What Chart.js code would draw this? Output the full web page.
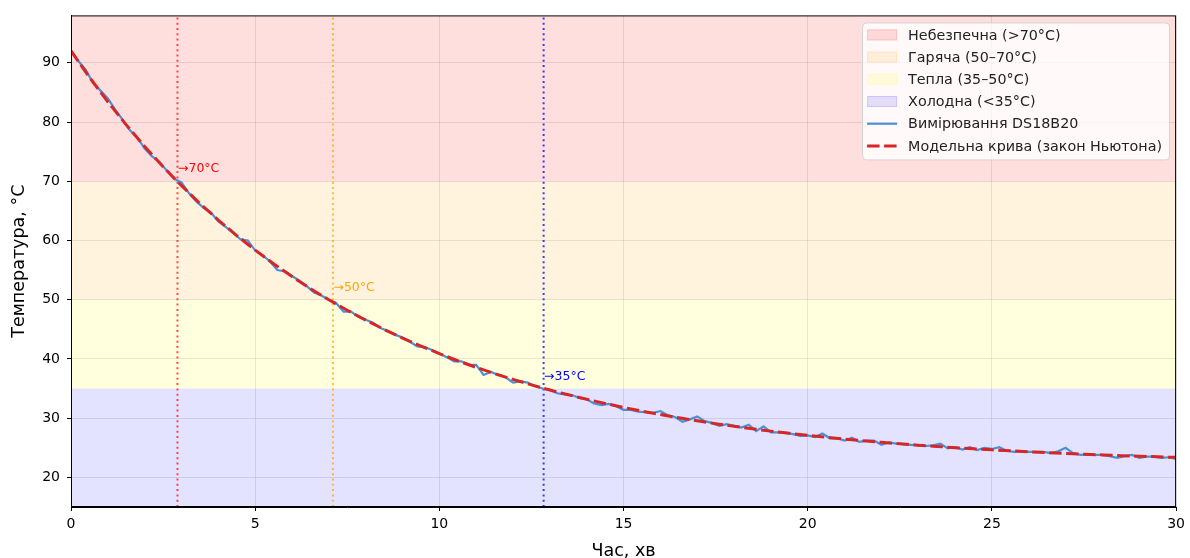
<!DOCTYPE html>
<html>
<head>
<meta charset="utf-8">
<script src="https://cdn.jsdelivr.net/npm/chart.js@4/dist/chart.umd.min.js"></script>
<style>
  html, body { margin: 0; padding: 0; background: #fff; }
  canvas { display: block; }
</style>
</head>
<body>
<canvas id="coolingChart" width="1190" height="558"></canvas>
<script>
// measured DS18B20 readings, every 0.2 min
const timeMin = [
  0, 0.2, 0.4, 0.6, 0.8, 1, 1.2, 1.4, 1.6, 1.8, 2, 2.2, 2.4, 2.6, 2.8,
  3, 3.2, 3.4, 3.6, 3.8, 4, 4.2, 4.4, 4.6, 4.8, 5, 5.2, 5.4, 5.6, 5.8,
  6, 6.2, 6.4, 6.6, 6.8, 7, 7.2, 7.4, 7.6, 7.8, 8, 8.2, 8.4, 8.6, 8.8,
  9, 9.2, 9.4, 9.6, 9.8, 10, 10.2, 10.4, 10.6, 10.8, 11, 11.2, 11.4, 11.6, 11.8,
  12, 12.2, 12.4, 12.6, 12.8, 13, 13.2, 13.4, 13.6, 13.8, 14, 14.2, 14.4, 14.6, 14.8,
  15, 15.2, 15.4, 15.6, 15.8, 16, 16.2, 16.4, 16.6, 16.8, 17, 17.2, 17.4, 17.6, 17.8,
  18, 18.2, 18.4, 18.6, 18.8, 19, 19.2, 19.4, 19.6, 19.8, 20, 20.2, 20.4, 20.6, 20.8,
  21, 21.2, 21.4, 21.6, 21.8, 22, 22.2, 22.4, 22.6, 22.8, 23, 23.2, 23.4, 23.6, 23.8,
  24, 24.2, 24.4, 24.6, 24.8, 25, 25.2, 25.4, 25.6, 25.8, 26, 26.2, 26.4, 26.6, 26.8,
  27, 27.2, 27.4, 27.6, 27.8, 28, 28.2, 28.4, 28.6, 28.8, 29, 29.2, 29.4, 29.6, 29.8, 30
];
const tempMeasured = [
  92.0, 90.3, 88.8, 86.6, 85.3, 84.0, 82.1, 80.4, 78.6, 77.4, 75.5, 74.2, 73.3, 71.8, 70.4,
  69.8, 68.0, 66.6, 65.5, 64.7, 63.2, 62.3, 61.3, 60.2, 60.0, 58.3, 57.5, 56.5, 55.0, 54.8,
  54.0, 53.2, 52.3, 51.2, 50.7, 50.0, 49.4, 48.0, 48.0, 47.1, 46.6, 46.1, 45.2, 44.7, 44.1,
  43.6, 42.9, 42.1, 42.0, 41.5, 40.9, 40.3, 39.6, 39.6, 39.0, 39.0, 37.3, 37.8, 37.3, 36.9,
  36.0, 36.2, 36.0, 35.4, 35.0, 34.8, 34.2, 34.0, 33.9, 33.4, 33.2, 32.5, 32.2, 32.4, 32.0,
  31.4, 31.4, 31.1, 31.0, 30.9, 31.2, 30.5, 30.2, 29.4, 29.8, 30.3, 29.5, 29.2, 28.7, 29.0,
  28.7, 28.4, 28.9, 27.8, 28.6, 27.6, 27.6, 27.5, 27.3, 27.0, 27.1, 26.8, 27.4, 26.6, 26.6,
  26.2, 26.7, 26.0, 26.2, 26.2, 25.5, 25.9, 25.7, 25.6, 25.5, 25.4, 25.3, 25.4, 25.7, 24.9,
  25.1, 24.7, 25.1, 24.6, 25.0, 24.8, 25.1, 24.5, 24.3, 24.4, 24.3, 24.3, 24.3, 24.1, 24.4,
  25.0, 24.1, 23.8, 23.9, 23.8, 23.8, 23.6, 23.3, 23.6, 23.8, 23.3, 23.5, 23.5, 23.3, 23.4, 23.1
];

// model curve (Newton's law), read every 0.5 min
const modelTime = [
  0, 0.5, 1, 1.5, 2, 2.5, 3, 3.5, 4, 4.5, 5, 5.5, 6, 6.5, 7, 7.5, 8, 8.5, 9, 9.5,
  10, 10.5, 11, 11.5, 12, 12.5, 13, 13.5, 14, 14.5, 15, 15.5, 16, 16.5, 17, 17.5, 18, 18.5, 19, 19.5,
  20, 20.5, 21, 21.5, 22, 22.5, 23, 23.5, 24, 24.5, 25, 25.5, 26, 26.5, 27, 27.5, 28, 28.5, 29, 29.5, 30
];
const modelTemp = [
  92.00, 87.56, 83.41, 79.51, 75.87, 72.45, 69.25, 66.26, 63.45, 60.83,
  58.36, 56.06, 53.90, 51.88, 49.98, 48.21, 46.55, 44.99, 43.53, 42.17,
  40.89, 39.69, 38.57, 37.52, 36.54, 35.62, 34.75, 33.94, 33.19, 32.48,
  31.81, 31.19, 30.61, 30.06, 29.55, 29.07, 28.62, 28.20, 27.81, 27.44,
  27.10, 26.77, 26.47, 26.19, 25.92, 25.67, 25.44, 25.22, 25.02, 24.83,
  24.65, 24.48, 24.32, 24.18, 24.04, 23.91, 23.79, 23.67, 23.57, 23.47, 23.38
];

const zoneLabels = ['Небезпечна (>70°C)', 'Гаряча (50–70°C)', 'Тепла (35–50°C)', 'Холодна (<35°C)'];
const zoneTop = [98, 70, 50, 35];
const zoneBottom = [70, 50, 35, 15];
const zoneColors = ['rgba(255,0,0,0.13)', 'rgba(255,165,0,0.13)', 'rgba(255,255,0,0.13)', 'rgba(0,0,255,0.11)'];

const crossTimes = [2.89, 7.11, 12.83];
const crossLevels = [70, 50, 35];
const crossLabels = ['→70°C', '→50°C', '→35°C'];
const crossLineColors = ['rgba(255,0,0,0.7)', 'rgba(255,165,0,0.75)', 'rgba(0,0,255,0.75)'];
const crossTextColors = ['#ff0000', '#ffa500', '#0000ff'];

const xTicks = [0, 5, 10, 15, 20, 25, 30];
const yTicks = [20, 30, 40, 50, 60, 70, 80, 90];
const xMin = 0, xMax = 30, yMin = 15, yMax = 98;

Chart.defaults.font.family = '"DejaVu Sans", sans-serif';
Chart.defaults.color = '#000';

const datasets = [];
zoneLabels.forEach((lab, i) => {
  datasets.push({
    label: lab,
    data: [{x: xMin, y: zoneTop[i]}, {x: xMax, y: zoneTop[i]}],
    backgroundColor: zoneColors[i],
    borderWidth: 0,
    pointRadius: 0,
    fill: {value: zoneBottom[i]},
    order: 3
  });
});
crossTimes.forEach((t, i) => {
  datasets.push({
    data: [{x: t, y: yMin}, {x: t, y: yMax}],
    borderColor: crossLineColors[i],
    borderWidth: 2,
    borderDash: [2, 3.3],
    pointRadius: 0,
    fill: false,
    order: 2
  });
});
datasets.push({
  label: 'Вимірювання DS18B20',
  data: timeMin.map((t, i) => ({x: t, y: tempMeasured[i]})),
  borderColor: '#4a90d9',
  borderWidth: 2.2,
  pointRadius: 0,
  fill: false,
  order: 1
});
datasets.push({
  label: 'Модельна крива (закон Ньютона)',
  data: modelTime.map((t, i) => ({x: t, y: modelTemp[i]})),
  borderColor: '#d62728',
  borderWidth: 3,
  borderDash: [12.5, 4.5],
  pointRadius: 0,
  fill: false,
  order: 0
});

const extras = {
  id: 'extras',
  afterDatasetsDraw(chart) {
    const {ctx, chartArea: a, scales: {x, y}} = chart;
    ctx.save();
    // threshold notes
    ctx.font = '12.5px "DejaVu Sans"';
    ctx.textAlign = 'left';
    ctx.textBaseline = 'bottom';
    crossTimes.forEach((t, i) => {
      ctx.fillStyle = crossTextColors[i];
      ctx.fillText(crossLabels[i], x.getPixelForValue(t) + 0.5, y.getPixelForValue(crossLevels[i] + 1));
    });
    // frame
    ctx.strokeStyle = '#000';
    ctx.lineWidth = 1;
    ctx.strokeRect(a.left + 0.5, a.top + 0.5, a.right - a.left - 1, a.bottom - a.top - 1);

    // legend
    const bx = a.right - 314, by = a.top + 7, bw = 307, bh = 137;
    ctx.beginPath();
    ctx.roundRect(bx + 0.5, by + 0.5, bw, bh, 4);
    ctx.fillStyle = 'rgba(255,255,255,0.8)';
    ctx.fill();
    ctx.strokeStyle = 'rgba(204,204,204,0.8)';
    ctx.stroke();
    ctx.font = '14.3px "DejaVu Sans"';
    ctx.textBaseline = 'middle';
    const items = chart.data.datasets.filter(d => d.label);
    items.forEach((d, i) => {
      const cy = by + 12.5 + i * 22.2;
      const sx = bx + 5;
      if (d.fill) {
        ctx.fillStyle = d.backgroundColor;
        ctx.fillRect(sx, cy - 5.5, 30, 11);
        ctx.strokeStyle = d.backgroundColor;
        ctx.lineWidth = 1;
        ctx.strokeRect(sx + 0.5, cy - 5, 29, 10);
      } else {
        ctx.beginPath();
        ctx.setLineDash(d.borderDash || []);
        ctx.strokeStyle = d.borderColor;
        ctx.lineWidth = d.borderWidth;
        ctx.moveTo(sx, cy);
        ctx.lineTo(sx + 30, cy);
        ctx.stroke();
        ctx.setLineDash([]);
      }
      ctx.fillStyle = '#222';
      ctx.fillText(d.label, bx + 46, cy + 1);
    });
    ctx.restore();
  }
};

new Chart(document.getElementById('coolingChart'), {
  type: 'line',
  data: {datasets: datasets},
  options: {
    responsive: false,
    animation: false,
    devicePixelRatio: 1,
    layout: {padding: {top: 15, right: 12, left: 0, bottom: 0}},
    plugins: {legend: {display: false}, tooltip: {enabled: false}},
    elements: {line: {tension: 0}},
    scales: {
      x: {
        type: 'linear',
        min: xMin,
        max: xMax,
        afterBuildTicks: s => { s.ticks = xTicks.map(v => ({value: v})); },
        afterFit: s => { s.height = 51; },
        ticks: {font: {size: 14}, color: '#000', padding: 5, maxRotation: 0},
        grid: {color: 'rgba(176,176,176,0.32)', tickColor: '#000', tickLength: 4},
        border: {color: '#000'},
        title: {display: true, text: 'Час, хв', font: {size: 17.5}, color: '#000', padding: {top: 0, bottom: -4}}
      },
      y: {
        type: 'linear',
        min: yMin,
        max: yMax,
        afterBuildTicks: s => { s.ticks = yTicks.map(v => ({value: v})); },
        afterFit: s => { s.width = 71; },
        ticks: {font: {size: 14}, color: '#000', padding: 7},
        grid: {color: 'rgba(176,176,176,0.32)', tickColor: '#000', tickLength: 4},
        border: {color: '#000'},
        title: {display: true, text: 'Температура, °C', font: {size: 17.5}, color: '#000', padding: {top: 9, bottom: 0}}
      }
    }
  },
  plugins: [extras]
});
</script>
</body>
</html>
